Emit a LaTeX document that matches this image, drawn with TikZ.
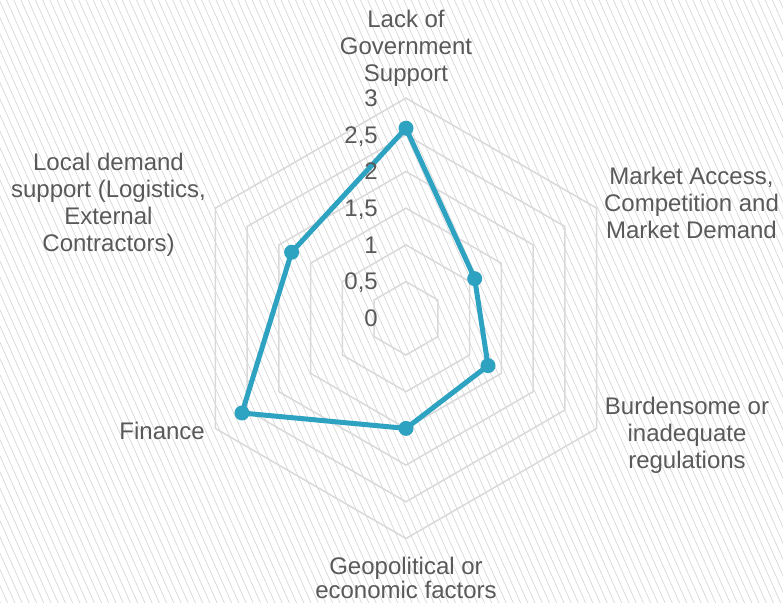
\documentclass[tikz,border=0pt]{standalone}
\usepackage{fontspec}
\setmainfont{Liberation Sans}
\usetikzlibrary{patterns.meta}
\definecolor{txtgray}{HTML}{595959}
\definecolor{gridgray}{HTML}{D9D9D9}
\definecolor{hatchgray}{HTML}{D6D6D6}
\definecolor{seriesblue}{HTML}{2EA3C1}

\begin{document}
\begin{tikzpicture}[x=1pt, y=1pt,
	ring/.style={draw=gridgray, line width=1.5pt},
	series/.style={draw=seriesblue, line width=5pt, line join=round},
	dot/.style={circle, fill=seriesblue, inner sep=0pt, minimum size=15pt},
	catlabel/.style={text=txtgray, align=center, anchor=north, inner sep=0pt, font=\fontsize{24}{27}\selectfont},
	ticklabel/.style={text=txtgray, anchor=base east, inner sep=0pt, font=\fontsize{24}{27}\selectfont}]
	\useasboundingbox (0,0) rectangle (783,602);
	\draw [draw=none, pattern={Lines[angle=114, distance=6.6pt, line width=0.7pt]}, pattern color=hatchgray] (0,0) rectangle (783,602);

	\coordinate (O) at (406,283.7);
	\begin{scope}[shift={(O)}]
		% grid rings, 0.5 to 3
		\draw [ring] (90:36.7) -- (30:36.7) -- (-30:36.7) -- (-90:36.7) -- (-150:36.7) -- (150:36.7) -- cycle;
		\draw [ring] (90:73.4) -- (30:73.4) -- (-30:73.4) -- (-90:73.4) -- (-150:73.4) -- (150:73.4) -- cycle;
		\draw [ring] (90:110.1) -- (30:110.1) -- (-30:110.1) -- (-90:110.1) -- (-150:110.1) -- (150:110.1) -- cycle;
		\draw [ring] (90:146.8) -- (30:146.8) -- (-30:146.8) -- (-90:146.8) -- (-150:146.8) -- (150:146.8) -- cycle;
		\draw [ring] (90:183.5) -- (30:183.5) -- (-30:183.5) -- (-90:183.5) -- (-150:183.5) -- (150:183.5) -- cycle;
		\draw [ring] (90:220.2) -- (30:220.2) -- (-30:220.2) -- (-90:220.2) -- (-150:220.2) -- (150:220.2) -- cycle;

		% data points
		\node [dot] (gov) at (90:190.1) {};
		\node [dot] (mkt) at (30:79.3) {};
		\node [dot] (reg) at (-30:94.7) {};
		\node [dot] (geo) at (-90:110.1) {};
		\node [dot] (fin) at (-150:189.4) {};
		\node [dot] (loc) at (150:132.1) {};
		\draw [series] (gov.center) -- (mkt.center) -- (reg.center) -- (geo.center) -- (fin.center) -- (loc.center) -- cycle;
	\end{scope}

	\node [ticklabel] (t0) at (378,275.3) {0};
	\node [ticklabel] (t05) at (378,312) {0,5};
	\node [ticklabel] (t1) at (378,348.7) {1};
	\node [ticklabel] (t15) at (378,385.4) {1,5};
	\node [ticklabel] (t2) at (378,422.1) {2};
	\node [ticklabel] (t25) at (378,458.8) {2,5};
	\node [ticklabel] (t3) at (378,495.5) {3};

	\node [catlabel] (govlabel) at (406,592) {Lack of\\Government\\Support};
	\node [catlabel] (mktlabel) at (691.5,435.3) {Market Access,\\Competition and\\Market Demand};
	\node [catlabel] (reglabel) at (687,205.3) {Burdensome or\\inadequate\\regulations};
	\node [catlabel, font=\fontsize{24}{24}\selectfont] (geolabel) at (406,45.3) {Geopolitical or\\economic factors};
	\node [catlabel, anchor=base east] (finlabel) at (205,162.7) {Finance};
	\node [catlabel] (loclabel) at (108.5,449.3) {Local demand\\support (Logistics,\\External\\Contractors)};

\end{tikzpicture}
\end{document}
